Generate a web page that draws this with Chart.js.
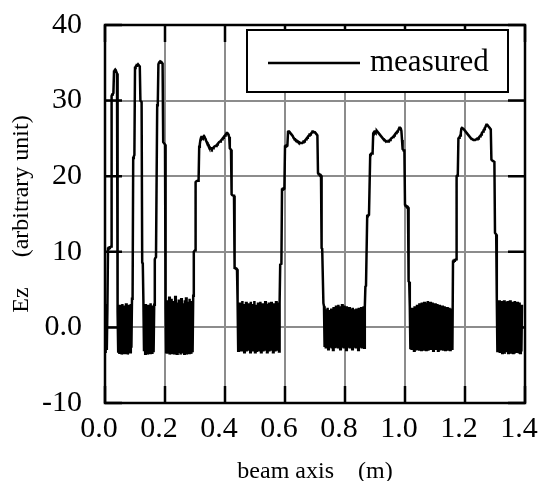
<!DOCTYPE html>
<html>
<head>
<meta charset="utf-8">
<script src="https://cdn.jsdelivr.net/npm/chart.js@4/dist/chart.umd.min.js"></script>
<style>
  html, body { margin: 0; padding: 0; background: #fff; }
</style>
</head>
<body>
<canvas id="myChart" width="540" height="481"></canvas>
<script>
// Ez along the beam axis, one sample every 2 mm starting at 0.0 m
const sampleStep = 0.002;
const ez = [
    // 0.00 - 0.01 noise
    2.8,-3.4,3.1,-3.0,2.5,
    // first spike
    10.4,10.5,10.5,10.6,10.6,10.7,30.6,30.8,30.9,31.0,33.8,34.0,34.1,34.0,33.8,33.6,2.0,
    -3.2,2.9,-3.5,3.0,-2.8,2.6,-3.6,3.1,-3.0,2.4,-3.4,2.9,-3.5,3.2,-2.9,2.7,-3.6,3.0,-3.1,2.5,-3.3,3.1,-2.7,
    // second spike
    3.8,4.0,22.4,22.6,22.8,34.3,34.5,34.6,34.7,34.7,34.8,34.7,34.6,34.5,30.0,29.9,29.8,8.6,8.4,3.5,
    -3.0,2.8,-3.5,3.1,-3.2,2.6,-3.6,3.0,-2.9,2.7,-3.4,3.2,-3.1,2.5,-3.5,2.9,-3.3,3.0,
    // third spike
    9.0,9.2,9.3,9.3,29.4,29.6,34.8,35.0,35.1,35.2,35.2,35.1,35.0,34.8,24.5,24.4,24.3,24.2,2.5,
    -3.3,3.6,-3.5,3.2,-2.9,4.1,-3.6,3.0,-3.2,3.8,-3.4,2.9,-3.0,3.5,-3.6,4.2,-3.1,3.3,-3.5,3.0,-2.8,3.7,-3.4,3.1,
    -3.6,3.9,-3.0,3.2,-3.3,2.8,-3.5,3.6,-3.2,4.0,-3.6,3.1,-2.9,3.4,-3.4,3.8,-3.1,3.0,-3.5,3.5,-3.3,4.2,
    // cell 1
    10.0,10.1,10.2,19.2,19.3,19.3,19.4,19.4,19.5,23.9,24.2,24.8,
    25.1,25.2,25.2,25.1,25.2,25.3,25.2,25.0,24.8,24.6,24.5,24.3,24.2,24.0,23.9,23.8,23.7,23.7,23.6,23.7,23.7,23.8,23.9,23.9,
    24.0,24.0,24.1,24.2,24.3,24.4,24.5,24.5,24.6,24.7,24.8,24.9,25.0,25.1,25.2,25.3,25.4,25.5,25.6,25.7,25.7,25.6,25.4,25.2,
    23.7,23.6,23.5,17.6,17.5,17.5,17.4,17.4,7.9,7.9,7.8,7.8,7.7,3.4,
    -3.1,2.9,-3.2,3.3,-2.8,3.0,-3.2,3.5,-3.0,2.8,-3.3,3.1,-2.9,3.4,-3.2,2.9,-3.1,3.2,-2.7,3.0,-3.3,3.4,-3.0,2.8,
    -3.2,3.1,-2.9,3.5,-3.3,3.0,-3.1,2.9,-2.8,3.3,-3.2,3.1,-3.0,3.4,-3.3,2.8,-2.9,3.2,-3.2,3.0,-3.1,3.5,-2.8,3.1,
    -3.3,2.9,-3.0,3.3,-3.2,3.0,-2.9,3.4,-3.1,2.8,-3.3,3.2,-3.0,3.0,-3.2,3.5,-2.8,3.1,-3.1,3.3,-3.2,3.2,
    // cell 2
    8.3,8.3,8.4,18.2,18.3,18.3,18.4,18.4,23.9,24.0,24.0,24.1,24.1,25.8,
    25.9,25.9,25.8,25.7,25.6,25.5,25.4,25.3,25.1,25.0,24.9,24.9,24.8,24.7,24.7,24.6,24.6,24.5,24.5,24.4,24.4,24.4,24.4,24.4,
    24.5,24.6,24.6,24.7,24.8,24.9,25.0,25.1,25.2,25.3,25.4,25.5,25.5,25.6,25.7,25.8,25.9,25.9,25.9,25.8,25.8,25.7,25.6,25.5,25.4,
    20.4,20.3,20.3,20.2,20.2,20.1,10.5,10.4,10.4,3.2,2.8,
    -2.6,2.4,-2.8,2.1,-2.5,2.6,-2.9,2.3,-2.7,2.0,-2.4,2.5,-2.8,2.2,-3.0,2.7,-2.6,2.4,-2.7,2.9,-2.5,2.6,-2.8,3.0,
    -2.6,2.8,-2.9,2.5,-2.7,3.1,-2.5,2.7,-2.8,2.9,-2.6,2.6,-3.0,2.8,-2.7,2.4,-2.5,2.7,-2.8,2.5,-2.6,2.3,-2.9,2.6,
    -2.7,2.4,-2.5,2.2,-2.8,2.5,-2.6,2.3,-3.0,2.6,-2.7,2.4,-2.5,2.7,-2.8,2.5,-2.6,2.8,-2.7,2.6,
    // cell 3
    5.4,5.5,5.5,14.7,14.8,14.8,14.9,14.9,22.8,22.9,23.0,23.0,23.1,25.6,
    25.8,25.9,25.9,25.8,25.9,26.0,25.9,25.8,25.7,25.6,25.5,25.4,25.3,25.2,25.1,25.0,24.9,24.9,24.8,24.7,24.7,24.6,24.6,24.6,
    24.6,24.7,24.7,24.8,24.9,25.0,25.0,25.1,25.2,25.3,25.4,25.5,25.6,25.7,25.8,25.9,26.0,26.1,26.3,26.4,26.4,26.3,26.0,24.8,23.6,
    23.5,23.4,23.4,16.2,16.1,16.1,16.0,16.0,15.9,6.1,6.0,2.8,
    -2.9,2.4,-3.0,2.6,-2.8,2.5,-3.1,2.8,-2.9,2.7,-3.0,3.0,-2.7,2.9,-3.1,3.2,-2.9,3.0,-3.0,3.3,-2.8,3.1,-3.1,3.4,-2.9,
    3.2,-3.0,3.3,-2.7,3.5,-3.1,3.2,-2.9,3.4,-3.0,3.1,-2.8,3.3,-3.1,3.0,-2.9,3.2,-3.0,2.9,-2.7,3.1,-3.1,2.8,-2.9,
    3.0,-3.0,2.7,-2.8,2.9,-3.1,2.6,-2.9,2.8,-3.0,2.5,-2.7,2.7,-3.1,2.4,-2.9,2.6,-3.0,2.3,-2.8,2.5,-3.0,
    // cell 4
    8.7,8.8,8.8,8.9,8.9,9.0,20.0,20.1,20.2,25.0,25.1,25.2,25.4,25.7,26.3,
    26.4,26.4,26.3,26.2,26.1,26.0,25.9,25.8,25.7,25.6,25.5,25.4,25.3,25.2,25.1,25.0,25.0,24.9,24.9,24.8,24.8,24.8,24.8,24.8,
    24.9,24.9,25.0,25.0,25.1,25.2,25.3,25.4,25.5,25.7,25.8,25.9,26.1,26.2,26.4,26.5,26.7,26.8,26.8,26.7,26.6,26.5,26.4,26.3,26.1,
    22.2,22.1,22.1,22.0,22.0,21.9,12.5,12.4,12.3,
    3.8,-3.3,3.4,-3.1,3.6,-3.4,3.2,-3.0,3.5,-3.4,3.3,-3.2,3.6,-3.5,3.1,-3.3,3.4,-3.0,3.5,-3.4,3.2,
    -3.2,3.6,-3.5,3.3,-3.1,3.4,-3.4,3.0,-3.3,3.5,-3.2,3.2,-3.4,3.4,-3.0,3.1,-3.3,3.3,-3.4,2.9,-3.2,3.0
];

const xTicks = [0, 0.2, 0.4, 0.6, 0.8, 1.0, 1.2, 1.4];
const xTickLabels = ['0.0', '0.2', '0.4', '0.6', '0.8', '1.0', '1.2', '1.4'];
const yTicks = [-10, 0, 10, 20, 30, 40];
const yTickLabels = ['-10', '0.0', '10', '20', '30', '40'];

const serif = '"Liberation Serif", "Times New Roman", serif';

const points = ez.map((v, i) => ({ x: i * sampleStep, y: v }));

// frame, inward tick marks and the boxed legend
const framePlugin = {
    id: 'frame',
    afterDatasetsDraw(chart) {
        const { ctx, chartArea: a, scales } = chart;
        const tick = 17;
        ctx.save();
        ctx.strokeStyle = '#000';
        ctx.lineWidth = 2.5;
        ctx.beginPath();
        xTicks.forEach(v => {
            const px = scales.x.getPixelForValue(v);
            ctx.moveTo(px, a.bottom); ctx.lineTo(px, a.bottom - tick);
            ctx.moveTo(px, a.top); ctx.lineTo(px, a.top + tick);
        });
        yTicks.forEach(v => {
            const py = scales.y.getPixelForValue(v);
            ctx.moveTo(a.left, py); ctx.lineTo(a.left + tick, py);
            ctx.moveTo(a.right, py); ctx.lineTo(a.right - tick, py);
        });
        ctx.stroke();
        ctx.strokeRect(a.left, a.top, a.right - a.left, a.bottom - a.top);

        // legend box
        const bx = a.left + 142, by = a.top + 5, bw = 261, bh = 62;
        ctx.fillStyle = '#fff';
        ctx.fillRect(bx, by, bw, bh);
        ctx.lineWidth = 2;
        ctx.strokeRect(bx, by, bw, bh);
        ctx.lineWidth = 2.5;
        ctx.beginPath();
        ctx.moveTo(bx + 21, by + 33);
        ctx.lineTo(bx + 113, by + 33);
        ctx.stroke();
        ctx.fillStyle = '#000';
        ctx.font = '31px ' + serif;
        ctx.textBaseline = 'alphabetic';
        ctx.fillText(chart.data.datasets[0].label, bx + 123, by + 41);
        ctx.restore();
    }
};

const ctx = document.getElementById('myChart').getContext('2d');
const chart = new Chart(ctx, {
    type: 'line',
    data: {
        datasets: [{
            label: 'measured',
            data: points,
            borderColor: '#000',
            borderWidth: 2.5,
            pointRadius: 0,
            tension: 0,
            fill: false
        }]
    },
    options: {
        responsive: false,
        animation: false,
        devicePixelRatio: 1,
        layout: { padding: { top: 25, right: 15, left: 0, bottom: 0 } },
        plugins: {
            legend: { display: false },
            tooltip: { enabled: false }
        },
        scales: {
            x: {
                type: 'linear',
                min: 0,
                max: 1.4,
                afterBuildTicks: s => { s.ticks = xTicks.map(v => ({ value: v })); },
                afterFit: s => { s.height = 78; s.paddingLeft = 0; s.paddingRight = 0; },
                grid: { color: '#8c8c8c', lineWidth: 2, drawTicks: false },
                border: { display: false },
                ticks: {
                    color: '#000',
                    font: { family: serif, size: 30 },
                    padding: 8,
                    labelOffset: -6,
                    maxRotation: 0,
                    autoSkip: false,
                    callback: (v, i) => xTickLabels[i]
                },
                title: {
                    display: true,
                    text: 'beam axis    (m)',
                    color: '#000',
                    font: { family: serif, size: 24, lineHeight: 0.75 },
                    padding: { top: 0, bottom: 0 }
                }
            },
            y: {
                min: -10,
                max: 40,
                afterBuildTicks: s => { s.ticks = yTicks.map(v => ({ value: v })); },
                afterFit: s => { s.width = 105; s.paddingTop = 0; s.paddingBottom = 0; },
                grid: { color: '#8c8c8c', lineWidth: 2, drawTicks: false },
                border: { display: false },
                ticks: {
                    color: '#000',
                    font: { family: serif, size: 30 },
                    padding: 23,
                    autoSkip: false,
                    callback: (v, i) => yTickLabels[i]
                },
                title: {
                    display: true,
                    text: 'Ez     (arbitrary unit)',
                    color: '#000',
                    font: { family: serif, size: 24 },
                    padding: { top: 7, bottom: 0 }
                }
            }
        }
    },
    plugins: [framePlugin]
});
</script>
</body>
</html>
